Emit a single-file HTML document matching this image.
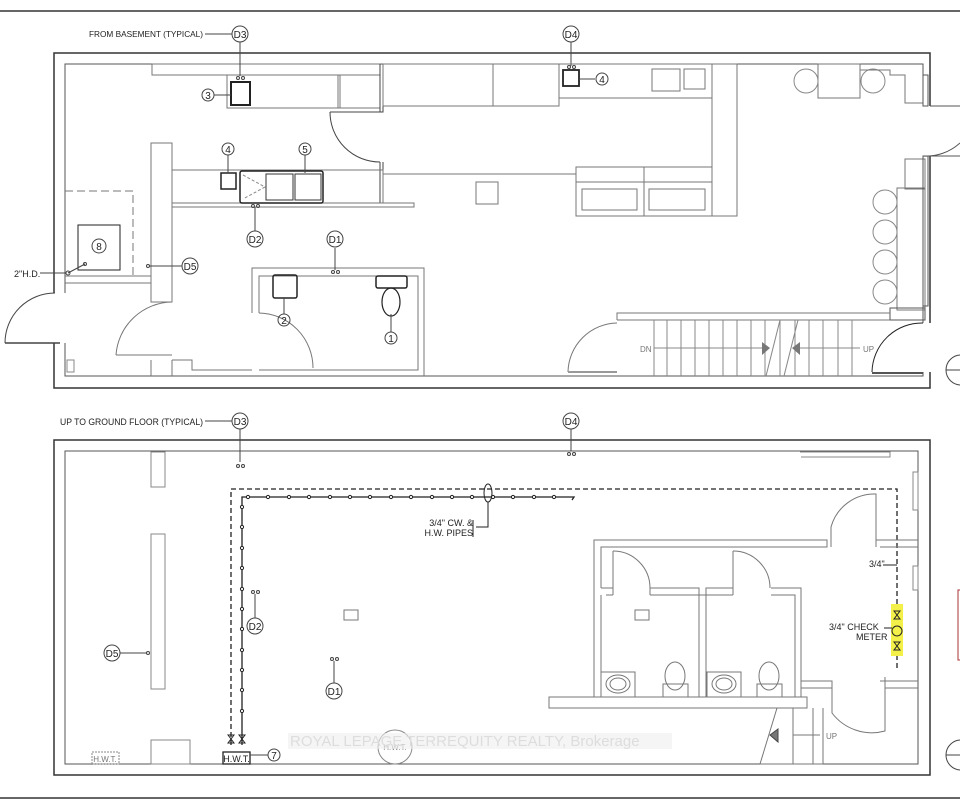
<!DOCTYPE html>
<html><head><meta charset="utf-8"><style>
html,body{margin:0;padding:0;background:#fff}
svg{display:block}
text{font-family:"Liberation Sans",sans-serif}
</style></head><body>
<svg width="960" height="799" viewBox="0 0 960 799" xmlns="http://www.w3.org/2000/svg">
<rect width="960" height="799" fill="#fff"/>
<g fill="none" stroke="#444" stroke-width="1">
<line x1="0" y1="11" x2="960" y2="11" stroke="#333" stroke-width="1.5"/>
<line x1="0" y1="798" x2="960" y2="798" stroke="#333" stroke-width="1.5"/>

<!-- TOP PLAN -->
<path d="M54 293 V53 H930 V106 M930 156 V323 M930 372 V388 H54 V343" stroke-width="1.5" stroke="#333"/>
<path d="M65 293 V64 H923 V106 M923 156 V323 M923 372 V376 H65 V343" stroke="#555"/>
<line x1="5" y1="343" x2="60" y2="343" stroke-width="1.5"/>
<path d="M5 343 A50 50 0 0 1 55 293"/>
<rect x="67" y="360" width="7" height="12" stroke="#888"/>
<!-- top counters -->
<rect x="152" y="64" width="228" height="11" stroke="#777"/>
<rect x="227" y="75" width="113" height="33" stroke="#777"/>
<rect x="338" y="75" width="42" height="33" stroke="#777"/>
<rect x="231" y="82" width="19" height="23" stroke="#222" stroke-width="2"/>
<circle cx="208" cy="95" r="6"/><line x1="214" y1="95" x2="231" y2="95"/>
<text x="208" y="99" font-size="10" text-anchor="middle" fill="#222" stroke="none">3</text>
<circle cx="238" cy="78" r="1.5"/><circle cx="243" cy="78" r="1.5"/>
<path d="M380 64 V112 H383 V64 M330 112 H380 M380 162 V203 H383 V162"/>
<path d="M330 112 A50 50 0 0 0 380 162"/>
<!-- mid counter -->
<rect x="172" y="170" width="211" height="33" stroke="#777"/>
<rect x="172" y="203" width="242" height="4" stroke="#777"/>
<rect x="240" y="171" width="83" height="32" rx="2" stroke="#222" stroke-width="1.5"/>
<rect x="266" y="174" width="27" height="26" stroke="#333"/><rect x="295" y="174" width="26" height="26" stroke="#333"/>
<path d="M243 175 L265 187 L243 199" stroke="#888" stroke-dasharray="3 2"/>
<rect x="221" y="173" width="15" height="16" stroke="#222" stroke-width="1.5"/>
<circle cx="228" cy="149" r="6"/><line x1="228" y1="155" x2="228" y2="173"/>
<text x="228" y="153" font-size="10" text-anchor="middle" fill="#222" stroke="none">4</text>
<circle cx="305" cy="149" r="6"/><line x1="305" y1="155" x2="305" y2="173"/>
<text x="305" y="153" font-size="10" text-anchor="middle" fill="#222" stroke="none">5</text>
<circle cx="253" cy="206" r="1.5"/><circle cx="258" cy="206" r="1.5"/>
<line x1="255" y1="207" x2="255" y2="231"/>
<circle cx="255" cy="239" r="8"/>
<!-- column & dashed room -->
<rect x="151" y="143" width="21" height="159" stroke="#777"/>
<path d="M65 191 H133 V276" stroke="#777" stroke-dasharray="8 4"/>
<rect x="78" y="225" width="42" height="45" stroke="#222"/>
<circle cx="99" cy="246" r="7"/><text x="99" y="250" font-size="10" text-anchor="middle" fill="#222" stroke="none">8</text>
<path d="M65 276 H151 M65 283 H151" stroke="#777"/>
<line x1="68" y1="273" x2="85" y2="264"/><circle cx="68" cy="273" r="2"/><circle cx="85" cy="264" r="1.5"/>
<line x1="40" y1="273" x2="66" y2="273"/>
<text x="14" y="277" font-size="9" fill="#222" stroke="none">2"H.D.</text>
<circle cx="148" cy="266" r="1.5"/><line x1="149" y1="266" x2="182" y2="266"/>
<circle cx="190" cy="266" r="8"/>
<path d="M116 355 A57 57 0 0 1 172 302" stroke="#777"/><line x1="116" y1="355" x2="172" y2="355" stroke="#777"/>
<path d="M151 360 V376 M172 360 V376 M172 360 H192 V370 H252" stroke="#777"/>
<!-- bathroom -->
<path d="M252 313 V268 H424 V376 M259 313 V276 H418 V370 H259 M259 370" stroke="#777"/>
<path d="M259 313 A55 55 0 0 1 313 368" stroke="#777"/>
<circle cx="333" cy="272" r="1.5"/><circle cx="338" cy="272" r="1.5"/>
<line x1="335" y1="270" x2="335" y2="248"/><circle cx="335" cy="239" r="8"/>
<rect x="273" y="275" width="24" height="23" rx="2" stroke="#222" stroke-width="1.5"/>
<line x1="284" y1="298" x2="284" y2="314"/><circle cx="284" cy="320" r="6"/>
<text x="284" y="324" font-size="10" text-anchor="middle" fill="#222" stroke="none">2</text>
<rect x="376" y="276" width="31" height="12" rx="2" stroke="#222" stroke-width="1.5"/>
<ellipse cx="391" cy="302" rx="9" ry="14" stroke="#222" stroke-width="1.2"/>
<line x1="391" y1="314" x2="391" y2="332"/><circle cx="391" cy="338" r="6"/>
<text x="391" y="342" font-size="10" text-anchor="middle" fill="#222" stroke="none">1</text>
<!-- D3 D4 top -->
<line x1="205" y1="34" x2="232" y2="34"/><circle cx="240" cy="34" r="8"/>
<line x1="240" y1="42" x2="240" y2="76"/>
<circle cx="571" cy="34" r="8"/><line x1="571" y1="42" x2="571" y2="66"/>
<circle cx="569" cy="67" r="1.5"/><circle cx="574" cy="67" r="1.5"/>
<rect x="563" y="70" width="16" height="16" stroke="#222" stroke-width="1.8"/>
<line x1="579" y1="79" x2="595" y2="79"/><circle cx="602" cy="79" r="6"/>
<text x="602" y="83" font-size="10" text-anchor="middle" fill="#222" stroke="none">4</text>
<!-- right kitchen -->
<rect x="383" y="64" width="176" height="42" stroke="#777"/>
<line x1="493" y1="64" x2="493" y2="106" stroke="#777"/>
<rect x="559" y="64" width="153" height="34" stroke="#777"/>
<rect x="652" y="69" width="28" height="22" stroke="#777"/><rect x="684" y="69" width="21" height="20" stroke="#777"/>
<rect x="712" y="64" width="25" height="152" stroke="#777"/>
<rect x="576" y="167" width="136" height="49" stroke="#777"/>
<line x1="576" y1="182" x2="712" y2="182" stroke="#777"/><line x1="644" y1="167" x2="644" y2="216" stroke="#777"/>
<rect x="582" y="189" width="55" height="21" stroke="#777"/><rect x="649" y="189" width="56" height="21" stroke="#777"/>
<line x1="383" y1="174" x2="576" y2="174" stroke="#777"/>
<rect x="476" y="182" width="22" height="22" stroke="#777"/>
<rect x="818" y="64" width="42" height="34" stroke="#777"/>
<circle cx="806" cy="81" r="12" stroke="#888"/><circle cx="873" cy="81" r="12" stroke="#888"/>
<path d="M860 70 H890 V75 H905 V103 H923" stroke="#777"/>
<rect x="923" y="75" width="5" height="31" stroke="#555"/>
<path d="M930 106 H960 M923 156 A50 50 0 0 0 960 143 M930 156 H960" stroke="#555"/>
<rect x="897" y="188" width="28" height="122" stroke="#777"/>
<rect x="905" y="159" width="20" height="30" stroke="#777"/>
<rect x="923" y="156" width="5" height="150" stroke="#555"/>
<circle cx="885" cy="202" r="12" stroke="#888"/><circle cx="885" cy="232" r="12" stroke="#888"/>
<circle cx="885" cy="262" r="12" stroke="#888"/><circle cx="885" cy="292" r="12" stroke="#888"/>
<rect x="890" y="308" width="35" height="12" stroke="#555"/>
<!-- stairs -->
<path d="M617 320 V313 H890" stroke="#777"/>
<line x1="617" y1="320" x2="890" y2="320" stroke="#777"/>
<g stroke="#888">
<line x1="654" y1="320" x2="654" y2="376"/><line x1="667" y1="320" x2="667" y2="376"/><line x1="681" y1="320" x2="681" y2="376"/><line x1="695" y1="320" x2="695" y2="376"/><line x1="709" y1="320" x2="709" y2="376"/><line x1="723" y1="320" x2="723" y2="376"/><line x1="737" y1="320" x2="737" y2="376"/><line x1="751" y1="320" x2="751" y2="376"/><line x1="765" y1="320" x2="765" y2="376"/><line x1="780" y1="320" x2="780" y2="376"/><line x1="795" y1="320" x2="795" y2="376"/><line x1="809" y1="320" x2="809" y2="376"/><line x1="823" y1="320" x2="823" y2="376"/><line x1="838" y1="320" x2="838" y2="376"/><line x1="852" y1="320" x2="852" y2="376"/>
<line x1="766" y1="376" x2="780" y2="320"/><line x1="784" y1="376" x2="798" y2="320"/>
<line x1="654" y1="348" x2="762" y2="348"/><line x1="800" y1="348" x2="860" y2="348"/>
</g>
<path d="M762 342 L770 348 L762 355Z M800 342 L792 348 L800 355Z" fill="#777" stroke="none"/>
<text x="640" y="352" font-size="8" fill="#777" stroke="none">DN</text>
<text x="863" y="352" font-size="8" fill="#777" stroke="none">UP</text>
<path d="M568 372 A50 50 0 0 1 617 323" stroke="#777"/>
<line x1="568" y1="372" x2="617" y2="372" stroke="#999" stroke-width="2"/>
<path d="M872 372 A50 50 0 0 1 923 323" stroke="#222"/>
<line x1="872" y1="373" x2="923" y2="373" stroke="#555" stroke-width="2"/>
<circle cx="961" cy="370" r="15"/><line x1="946" y1="370" x2="960" y2="370"/>

<!-- BOTTOM PLAN -->
<rect x="54" y="440" width="876" height="335" stroke-width="1.5" stroke="#333"/>
<rect x="65" y="451" width="853" height="313" stroke="#555"/>
<line x1="205" y1="421" x2="232" y2="421"/><circle cx="240" cy="421" r="8"/>
<line x1="240" y1="429" x2="240" y2="462"/>
<circle cx="238" cy="466" r="1.5"/><circle cx="243" cy="466" r="1.5"/>
<circle cx="571" cy="421" r="8"/><line x1="571" y1="429" x2="571" y2="451"/>
<circle cx="569" cy="454" r="1.5"/><circle cx="574" cy="454" r="1.5"/>
<path d="M800 452 H890 L890 457 L801 457" stroke="#888"/>
<rect x="913" y="472" width="5" height="38" stroke="#888"/><rect x="913" y="566" width="5" height="24" stroke="#888"/>
<rect x="151" y="452" width="14" height="35" stroke="#888"/>
<rect x="151" y="534" width="14" height="155" stroke="#888"/>
<rect x="151" y="740" width="39" height="24" stroke="#888"/>
<rect x="344" y="610" width="14" height="10" stroke="#777"/>
<rect x="92" y="752" width="27" height="12" stroke="#888" stroke-dasharray="2 1"/>
<text x="105" y="762" font-size="8" text-anchor="middle" fill="#777" stroke="none">H.W.T.</text>
<!-- dashed pipe -->
<path d="M231 745 V489 H897 V668" stroke="#222" stroke-width="1.3" stroke-dasharray="5 3"/>
<path d="M242 745 V497 H574 L572 500" stroke="#222" stroke-width="1.3"/>
<g fill="#fff" stroke="#222">
<circle cx="248" cy="497" r="1.6"/><circle cx="268" cy="497" r="1.6"/><circle cx="289" cy="497" r="1.6"/><circle cx="309" cy="497" r="1.6"/><circle cx="330" cy="497" r="1.6"/><circle cx="350" cy="497" r="1.6"/><circle cx="370" cy="497" r="1.6"/><circle cx="391" cy="497" r="1.6"/><circle cx="411" cy="497" r="1.6"/><circle cx="432" cy="497" r="1.6"/><circle cx="452" cy="497" r="1.6"/><circle cx="472" cy="497" r="1.6"/><circle cx="493" cy="497" r="1.6"/><circle cx="513" cy="497" r="1.6"/><circle cx="534" cy="497" r="1.6"/><circle cx="554" cy="497" r="1.6"/>
<circle cx="242" cy="507" r="1.6"/><circle cx="242" cy="527" r="1.6"/><circle cx="242" cy="548" r="1.6"/><circle cx="242" cy="568" r="1.6"/><circle cx="242" cy="589" r="1.6"/><circle cx="242" cy="609" r="1.6"/><circle cx="242" cy="629" r="1.6"/><circle cx="242" cy="650" r="1.6"/><circle cx="242" cy="670" r="1.6"/><circle cx="242" cy="690" r="1.6"/><circle cx="242" cy="711" r="1.6"/>
</g>
<ellipse cx="488" cy="493" rx="4" ry="9" stroke="#222"/>
<path d="M488 502 V527 H476" stroke="#222"/>
<text x="473" y="526" font-size="9" text-anchor="end" fill="#222" stroke="none">3/4" CW. &amp;</text>
<text x="473" y="536" font-size="9" text-anchor="end" fill="#222" stroke="none">H.W. PIPES</text>
<line x1="473" y1="520" x2="473" y2="537" stroke="#222"/>
<path d="M228 735 L234 743 L228 743 L234 735Z M239 735 L245 743 L239 743 L245 735Z" stroke="#222"/>
<rect x="223" y="752" width="27" height="12" stroke="#222" stroke-width="1.3"/>
<text x="236.5" y="762" font-size="9" text-anchor="middle" fill="#222" stroke="none">H.W.T.</text>
<line x1="250" y1="755" x2="268" y2="755"/><circle cx="274" cy="755" r="6"/>
<text x="274" y="759" font-size="10" text-anchor="middle" fill="#222" stroke="none">7</text>
<circle cx="112" cy="653" r="8"/><line x1="120" y1="653" x2="147" y2="653"/><circle cx="148" cy="653" r="1.5"/>
<circle cx="253" cy="592" r="1.5"/><circle cx="258" cy="592" r="1.5"/>
<line x1="255" y1="594" x2="255" y2="618"/><circle cx="255" cy="626" r="8"/>
<circle cx="332" cy="659" r="1.5"/><circle cx="337" cy="659" r="1.5"/>
<line x1="334" y1="661" x2="334" y2="683"/><circle cx="334" cy="691" r="8"/>
<circle cx="395" cy="747" r="17" stroke="#888"/>
<!-- bathrooms -->
<g stroke="#777">
<path d="M594 697 V540 H827 V547 H601 V588 M601 595 V697 M601 588 H613 V551 M613 595 V588 M650 588 V595 M650 588 H699 V595 H706 V588 H733 V551 M733 588 V595 M771 588 H801 V697 M771 595 H795 V697 M606 595 H613 M650 595 H733 M699 595 V697 M706 595 V697"/>
<path d="M613 551 A37 37 0 0 1 650 588 M733 551 A37 37 0 0 1 770 588"/>
<rect x="635" y="610" width="14" height="10"/>
<rect x="601" y="672" width="34" height="25"/><ellipse cx="618" cy="684" rx="12" ry="9"/><ellipse cx="618" cy="684" rx="8" ry="6"/>
<rect x="707" y="672" width="34" height="25"/><ellipse cx="724" cy="684" rx="12" ry="9"/><ellipse cx="724" cy="684" rx="8" ry="6"/>
<ellipse cx="675" cy="676" rx="10" ry="14"/><rect x="663" y="684" width="25" height="13"/>
<ellipse cx="769" cy="676" rx="10" ry="14"/><rect x="757" y="684" width="25" height="13"/>
<rect x="549" y="697" width="258" height="11"/>
<path d="M793 708 V764 M813 708 V764 M823 708 V764 M760 764 H823 M777 708 L760 764 M793 735 H820"/>
<path d="M831 547 V527 A45 45 0 0 1 876 494 V547 M876 540 H918 M880 547 H918"/>
<path d="M801 681 H832 V713 A50 50 0 0 0 885 731 V677 M880 681 H918 M801 688 H832 M885 688 H918"/>
</g>
<path d="M770 735 L778 729 L778 742Z" fill="#777"/>
<text x="826" y="739" font-size="8" fill="#777" stroke="none">UP</text>
<rect x="891" y="604" width="12" height="52" fill="#f4f04a" stroke="none"/>
<circle cx="897" cy="631" r="5" stroke="#222"/>
<path d="M894 611 L900 619 L894 619 L900 611Z M894 642 L900 650 L894 650 L900 642Z" stroke="#222"/>
<path d="M883 565 H897 M884 628 H892" stroke="#222"/>
<text x="869" y="567" font-size="9" fill="#222" stroke="none">3/4"</text>
<text x="829" y="630" font-size="9" fill="#222" stroke="none">3/4"  CHECK</text>
<text x="856" y="640" font-size="9" fill="#222" stroke="none">METER</text>
<rect x="958" y="590" width="4" height="70" stroke="#a33"/>
<circle cx="961" cy="755" r="15"/><line x1="946" y1="755" x2="960" y2="755"/>
</g>
<g fill="#222" font-size="10" text-anchor="middle">
<text x="240" y="38">D3</text><text x="571" y="38">D4</text><text x="255" y="243">D2</text><text x="335" y="243">D1</text><text x="190" y="270">D5</text>
<text x="240" y="425">D3</text><text x="571" y="425">D4</text><text x="112" y="657">D5</text><text x="255" y="630">D2</text><text x="334" y="695">D1</text>
</g>
<text x="89" y="37" font-size="8.5" fill="#222" textLength="114" lengthAdjust="spacingAndGlyphs">FROM BASEMENT (TYPICAL)</text>
<text x="60" y="425" font-size="9" fill="#222" textLength="143" lengthAdjust="spacingAndGlyphs">UP TO GROUND FLOOR (TYPICAL)</text>
<text x="395" y="750" font-size="8" text-anchor="middle" fill="#888">H.W.T.</text>
<rect x="288" y="733" width="384" height="16" fill="#eee" opacity="0.6"/>
<text x="290" y="746" font-size="15" fill="#ddd">ROYAL LEPAGE TERREQUITY REALTY, Brokerage</text>
</svg>
</body></html>
